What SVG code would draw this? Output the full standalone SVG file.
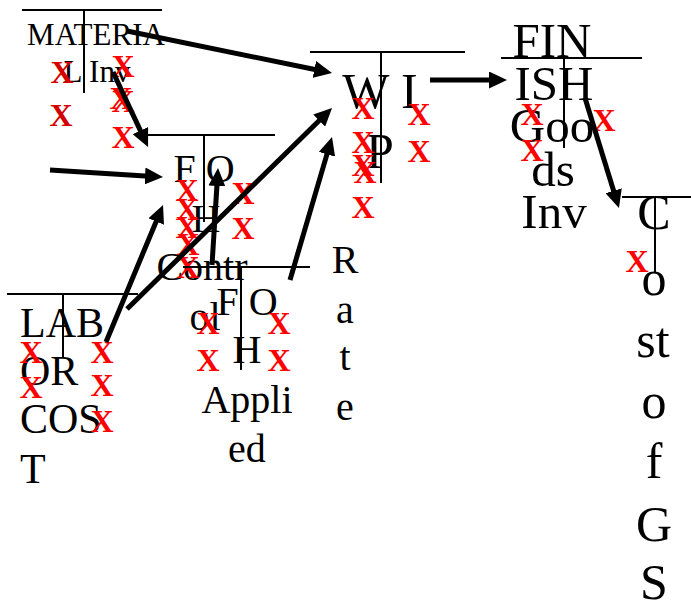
<svg xmlns="http://www.w3.org/2000/svg" width="691" height="604" viewBox="0 0 691 604">
<style>
  .t { font-family: "Liberation Serif", "Times New Roman", serif; fill: #000; }
  .m { text-anchor: middle; }
  .ln { stroke: #000; stroke-width: 2; fill: none; }
  .x { font-family: "Liberation Serif", "Times New Roman", serif; font-weight: bold; font-size: 32px; fill: #ff0000; text-anchor: middle; }
  .xd { fill: #d40000; }
  .c { stroke: #000; stroke-width: 5; fill: none; marker-end: url(#ah); }
</style>
<defs>
  <marker id="ah" markerUnits="userSpaceOnUse" viewBox="0 0 18 17" markerWidth="18" markerHeight="17" refX="8" refY="8.5" orient="auto">
    <path d="M0,0 L18,8.5 L0,17 z" fill="#000"/>
  </marker>
</defs>
<rect width="691" height="604" fill="#fff"/>

<g id="material-inv">
  <line class="ln" x1="22" y1="10" x2="162" y2="10"/>
  <line class="ln" x1="84" y1="10" x2="84" y2="93"/>
  <text class="t m" x="96" y="45" font-size="31">MATERIA</text>
  <text class="t m" x="97" y="82" font-size="31">L Inv</text>
  <text class="x xd" x="62" y="83">X</text>
  <text class="x xd" x="61" y="126">X</text>
  <text class="x" x="123" y="77">X</text>
  <text class="x" x="121" y="109">X</text>
  <text class="x" x="123" y="112">X</text>
  <text class="x" x="123" y="148">X</text>
</g>

<g id="foh-control">
  <line class="ln" x1="147" y1="135" x2="275" y2="135"/>
  <line class="ln" x1="204" y1="135" x2="204" y2="222"/>
  <text class="t m" x="204" y="182" font-size="40">F O</text>
  <text class="t m" x="206" y="232" font-size="40">H</text>
  <text class="t m" x="202" y="280" font-size="40">Contr</text>
  <text class="t m" x="205" y="330" font-size="40">ol</text>
  <text class="x" x="187" y="201">X</text>
  <text class="x" x="187" y="220">X</text>
  <text class="x" x="187" y="238">X</text>
  <text class="x" x="188" y="255">X</text>
  <text class="x" x="188" y="278">X</text>
  <text class="x" x="243" y="204">X</text>
  <text class="x" x="243" y="239">X</text>
</g>

<g id="wip">
  <line class="ln" x1="310" y1="52" x2="465" y2="52"/>
  <line class="ln" x1="381" y1="52" x2="381" y2="183"/>
  <text class="t m" x="380" y="108" font-size="50">W I</text>
  <text class="t m" x="380" y="168" font-size="50">P</text>
  <text class="x" x="363" y="119">X</text>
  <text class="x" x="363" y="153">X</text>
  <text class="x" x="363" y="176">X</text>
  <text class="x" x="365" y="183">X</text>
  <text class="x" x="363" y="218">X</text>
  <text class="x" x="419" y="125">X</text>
  <text class="x" x="419" y="162">X</text>
</g>

<g id="finished-goods-inv">
  <line class="ln" x1="501" y1="58" x2="642" y2="58"/>
  <line class="ln" x1="564" y1="58" x2="564" y2="148"/>
  <text class="t m" x="552" y="57" font-size="49">FIN</text>
  <text class="t m" x="554" y="100" font-size="49">ISH</text>
  <text class="t m" x="552" y="142" font-size="49">Goo</text>
  <text class="t m" x="553" y="186" font-size="49">ds</text>
  <text class="t m" x="554" y="228" font-size="49">Inv</text>
  <text class="x" x="532" y="125" font-size="29">X</text>
  <text class="x" x="532" y="161" font-size="29">X</text>
  <text class="x" x="604" y="131" font-size="29">X</text>
</g>

<g id="cost-of-gs">
  <line class="ln" x1="622" y1="197" x2="691" y2="197"/>
  <line class="ln" x1="655" y1="197" x2="655" y2="272"/>
  <text class="t m" x="654" y="229" font-size="50">C</text>
  <text class="t m" x="654" y="295" font-size="50">o</text>
  <text class="t m" x="653" y="357" font-size="50">st</text>
  <text class="t m" x="654" y="418" font-size="50">o</text>
  <text class="t m" x="654" y="478" font-size="50">f</text>
  <text class="t m" x="654" y="541" font-size="50">G</text>
  <text class="t m" x="654" y="599" font-size="50">S</text>
  <text class="x" x="637" y="272" font-size="29">X</text>
</g>

<g id="foh-applied">
  <line class="ln" x1="183" y1="267" x2="310" y2="267"/>
  <line class="ln" x1="241" y1="267" x2="241" y2="370" stroke-width="3"/>
  <text class="t m" x="247" y="315" font-size="40">F O</text>
  <text class="t m" x="247" y="363" font-size="40">H</text>
  <text class="t m" x="247" y="413" font-size="40">Appli</text>
  <text class="t m" x="247" y="462" font-size="40">ed</text>
  <text class="x" x="208" y="334">X</text>
  <text class="x" x="208" y="371">X</text>
  <text class="x" x="279" y="334">X</text>
  <text class="x" x="279" y="371">X</text>
</g>

<g id="rate">
  <text class="t m" x="345" y="273" font-size="40">R</text>
  <text class="t m" x="345" y="323" font-size="40">a</text>
  <text class="t m" x="345" y="370" font-size="40">t</text>
  <text class="t m" x="345" y="420" font-size="40">e</text>
</g>

<g id="labor-cost">
  <line class="ln" x1="7" y1="294" x2="138" y2="294"/>
  <line class="ln" x1="63" y1="294" x2="63" y2="358"/>
  <text class="t" x="20" y="337" font-size="42">LAB</text>
  <text class="t" x="20" y="385" font-size="42">OR</text>
  <text class="t" x="20" y="433" font-size="42">COS</text>
  <text class="t" x="20" y="483" font-size="42">T</text>
  <text class="x" x="31" y="363">X</text>
  <text class="x" x="31" y="398">X</text>
  <text class="x" x="102" y="363">X</text>
  <text class="x" x="102" y="396">X</text>
  <text class="x" x="102" y="432">X</text>
</g>

<g id="connectors">
  <line class="c" x1="127" y1="31" x2="322.2" y2="71.0"/>
  <line class="c" x1="113" y1="72" x2="143.8" y2="137.9"/>
  <line class="c" x1="50" y1="170" x2="153.0" y2="176.4"/>
  <line class="c" x1="106" y1="342" x2="159.2" y2="214.2"/>
  <line class="c" x1="127" y1="309" x2="324.9" y2="115.0"/>
  <line class="c" x1="290" y1="280" x2="329.2" y2="146.6"/>
  <line class="c" x1="212" y1="265" x2="217.4" y2="178.0"/>
  <line class="c" x1="430" y1="80" x2="497" y2="80"/>
  <line class="c" x1="585" y1="98" x2="616.0" y2="198.4"/>
</g>
</svg>
